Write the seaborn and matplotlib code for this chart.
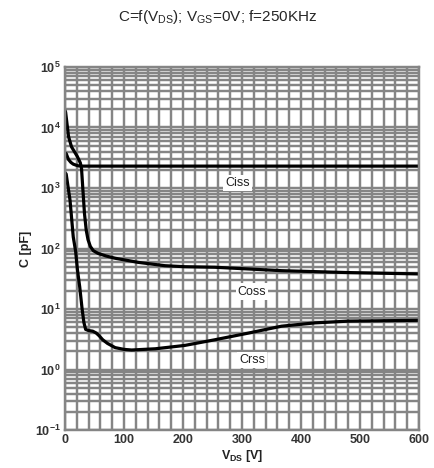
import numpy as np
import pandas as pd
import matplotlib
matplotlib.use("Agg")
import matplotlib.pyplot as plt
import seaborn as sns
from matplotlib.ticker import FixedLocator, LogLocator, FuncFormatter, NullFormatter

# valores (V em volts, C em pF)
v_ciss = [0, 2, 6, 10, 14, 19, 23, 30, 100, 200, 300, 400, 500, 600]
c_ciss = [3800, 3700, 2950, 2650, 2480, 2380, 2320, 2300, 2300, 2300, 2300, 2300, 2300, 2300]

v_coss = [0, 1, 6, 11, 21, 26, 28, 30, 33, 36, 39, 43, 48, 56, 70, 85, 124, 169, 203, 254, 367, 480, 600]
c_coss = [19000, 18000, 7100, 4800, 3300, 2600, 2100, 1050, 380, 200, 140, 108, 92, 83, 75, 69, 59, 52, 50, 49, 43, 40, 38]

v_crss = [0, 2, 8.5, 14, 18, 21, 25, 29, 32, 35, 40, 47, 53, 58, 64, 72, 85, 100, 113, 153, 203, 254, 311, 367, 424, 480, 600]
c_crss = [1800, 1700, 630, 155, 90, 45, 23, 10, 6.0, 4.6, 4.4, 4.3, 4.0, 3.6, 3.1, 2.7, 2.3, 2.15, 2.1, 2.2, 2.5, 3.1, 4.0, 5.2, 5.9, 6.3, 6.5]

curvas = ["Ciss", "Coss", "Crss"]
rotulo_v = [293, 317, 317]
rotulo_c = [1200, 19.4, 1.43]

sns.set_theme(style="white")
plt.rcParams['font.family'] = ['Liberation Sans', 'DejaVu Sans']
plt.rcParams['mathtext.fontset'] = 'custom'
plt.rcParams['mathtext.rm'] = 'Liberation Sans'
plt.rcParams['mathtext.bf'] = 'Liberation Sans:bold'
plt.rcParams['mathtext.it'] = 'Liberation Sans:italic'

fig = plt.figure(figsize=(4.35, 4.68), dpi=100)
ax = fig.add_axes([65 / 435, 38 / 468, 354 / 435, 363 / 468])

dados = {"Ciss": (v_ciss, c_ciss), "Coss": (v_coss, c_coss), "Crss": (v_crss, c_crss)}
for nome in curvas:
    vv, cc = dados[nome]
    df = pd.DataFrame({"V": vv, "C": cc})
    sns.lineplot(data=df, x="V", y="C", ax=ax, color="black", lw=2.3, sort=False)

ax.set_yscale("log")
ax.set_xlim(0, 600)
ax.set_ylim(0.1, 1e5)

cinza = "#858585"
ax.xaxis.set_major_locator(FixedLocator(np.arange(0, 601, 100)))
ax.xaxis.set_minor_locator(FixedLocator(np.arange(0, 601, 20)))
ax.yaxis.set_major_locator(LogLocator(base=10, numticks=10))
ax.yaxis.set_minor_locator(LogLocator(base=10, subs=np.arange(2, 10), numticks=20))
ax.yaxis.set_major_formatter(FuncFormatter(lambda y, p: r'$\mathbf{10^{%d}}$' % round(np.log10(y))))
ax.yaxis.set_minor_formatter(NullFormatter())
ax.xaxis.set_minor_formatter(NullFormatter())
ax.grid(True, which="both", color=cinza, lw=1.75)
ax.set_axisbelow(True)
for s in ax.spines.values():
    s.set_color(cinza)
    s.set_linewidth(1.75)
ax.tick_params(which="both", length=0, labelsize=9, colors="#333333", pad=3)
for t in ax.get_xticklabels():
    t.set_fontweight("bold")

for nome, xv, yv in zip(curvas, rotulo_v, rotulo_c):
    ax.text(xv, yv, nome, ha="center", va="center", fontsize=9, color="#222222",
            bbox=dict(facecolor="white", edgecolor="none", pad=1.5))

ax.set_xlabel(r'$\mathbf{V_{DS}}$ [V]', fontsize=9, fontweight="bold", color="#222222", labelpad=1)
ax.set_ylabel("C [pF]", fontsize=9, fontweight="bold", color="#222222", labelpad=2)
fig.text(0.5, 1 - 17 / 468, r'C=f(V$_{\mathrm{DS}}$); V$_{\mathrm{GS}}$=0V; f=250KHz',
         ha="center", va="center", fontsize=11)

fig.savefig("out.png", dpi=100)
